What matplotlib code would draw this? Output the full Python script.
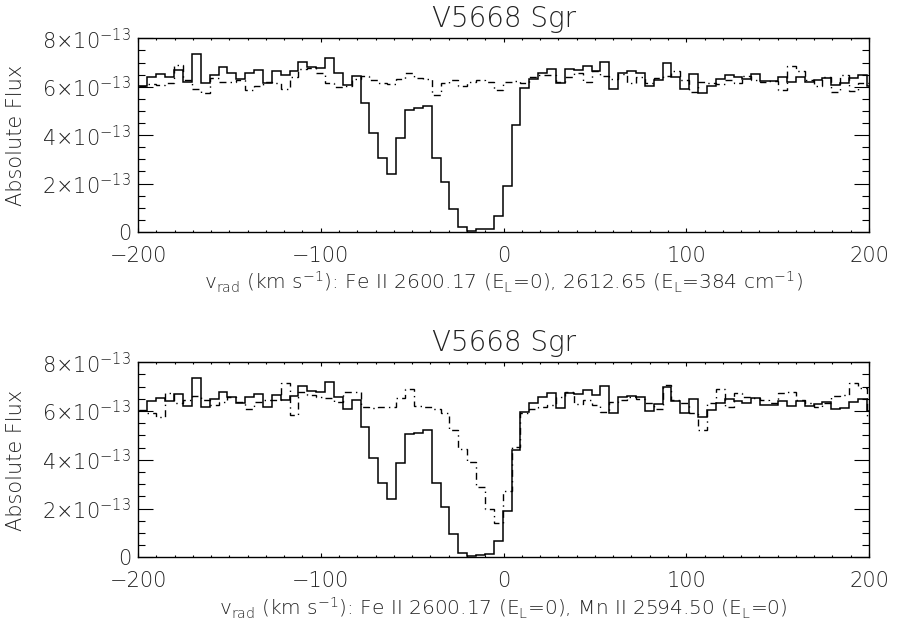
import matplotlib
matplotlib.use('Agg')
import matplotlib.pyplot as plt
import numpy as np

#======= Data ================================
# velocity pixel grid (km/s): left edge of first bin and bin width
v_start = -199.7
v_step = 4.86

# flux in units of 1e-13 (one value per velocity bin)
fe2600 = [6.01, 6.42, 6.53, 6.42, 6.69, 6.21, 7.36, 6.17, 6.49, 6.80,
          6.56, 6.31, 6.56, 6.69, 6.17, 6.67, 6.47, 6.63, 7.04, 6.83,
          6.79, 7.18, 6.58, 6.07, 6.45, 5.34, 4.08, 3.04, 2.40, 3.87,
          5.04, 5.11, 5.21, 3.04, 2.08, 0.94, 0.19, 0.04, 0.11, 0.14,
          0.66, 1.90, 4.42, 5.94, 6.31, 6.58, 6.72, 6.14, 6.75, 6.69,
          6.86, 6.67, 7.02, 5.91, 6.58, 6.63, 6.58, 6.01, 6.28, 6.97,
          6.42, 5.90, 6.51, 5.76, 6.03, 6.31, 6.49, 6.42, 6.31, 6.53,
          6.25, 6.24, 6.42, 6.21, 6.42, 6.21, 6.28, 6.35, 6.07, 6.14,
          6.35, 6.49, 6.01]

fe2612 = [6.01, 6.12, 6.07, 6.14, 6.90, 6.28, 5.90, 5.76, 6.35, 6.21,
          6.21, 6.28, 5.87, 6.03, 6.21, 6.14, 5.90, 6.42, 6.72, 6.76,
          6.58, 6.14, 5.98, 6.01, 6.31, 6.45, 6.28, 6.14, 6.12, 6.31,
          6.58, 6.35, 6.31, 5.66, 6.14, 6.28, 6.01, 6.21, 6.28, 6.21,
          5.87, 6.21, 6.25, 6.14, 6.42, 6.49, 6.49, 6.21, 6.42, 6.56,
          6.21, 6.63, 6.45, 6.31, 6.53, 6.17, 6.42, 6.17, 6.35, 6.45,
          6.67, 6.28, 5.80, 6.21, 6.14, 6.12, 6.28, 6.14, 6.45, 6.28,
          6.21, 6.25, 5.87, 6.86, 6.63, 6.28, 6.01, 6.39, 5.80, 6.49,
          5.84, 6.17, 6.14]

mn2594 = [6.05, 5.91, 5.77, 6.76, 6.32, 6.46, 6.62, 6.46, 6.25, 6.39,
          6.57, 6.39, 6.07, 6.35, 6.46, 6.46, 7.14, 5.84, 6.80, 6.66,
          6.59, 6.53, 6.39, 6.80, 6.80, 6.16, 6.11, 6.16, 6.16, 6.53,
          6.91, 6.21, 6.16, 6.07, 5.91, 5.23, 4.43, 3.93, 2.90, 1.97,
          1.42, 2.74, 4.54, 5.91, 6.07, 6.16, 6.25, 6.59, 6.80, 6.29,
          6.46, 6.25, 5.98, 6.39, 6.46, 6.57, 6.48, 6.32, 6.07, 7.07,
          6.46, 6.32, 5.91, 5.23, 6.32, 6.89, 6.16, 6.76, 6.59, 6.53,
          6.46, 6.32, 6.76, 6.80, 6.46, 6.32, 6.16, 6.32, 6.62, 6.66,
          7.14, 6.94, 5.77]

title = 'V5668 Sgr'
xlabels = [r'v$_{\rm rad}$ (km s$^{-1}$): Fe II 2600.17 (E$_{\rm L}$=0), 2612.65 (E$_{\rm L}$=384 cm$^{-1}$)',
           r'v$_{\rm rad}$ (km s$^{-1}$): Fe II 2600.17 (E$_{\rm L}$=0), Mn II 2594.50 (E$_{\rm L}$=0)']
ytick_vals = [0, 2e-13, 4e-13, 6e-13, 8e-13]
ytick_labels = ['0', '2\u00d710$^{-13}$', '4\u00d710$^{-13}$', '6\u00d710$^{-13}$', '8\u00d710$^{-13}$']
xtick_vals = [-200, -100, 0, 100, 200]

#======= Style ================================
plt.rcParams['font.family'] = ['DejaVu Sans']
plt.rcParams['font.weight'] = 'light'
plt.rcParams['axes.titleweight'] = 'light'
plt.rcParams['axes.labelweight'] = 'light'
plt.rcParams['mathtext.fontset'] = 'custom'
plt.rcParams['mathtext.rm'] = 'DejaVu Sans:light'
plt.rcParams['mathtext.it'] = 'DejaVu Sans:light'
plt.rcParams['text.color'] = '#222222'

txt_col = '#222222'
dashdot = (0, (5, 3, 1, 3))


#======= Panel ================================
def panel(ax, comparison, xlabel):
    edges = v_start + v_step * np.arange(len(fe2600) + 1)
    ax.stairs(np.array(fe2600) * 1e-13, edges, baseline=None, color='black', lw=1.1)
    ax.stairs(np.array(comparison) * 1e-13, edges, baseline=None, color='black', lw=1.0,
              linestyle=dashdot)

    ax.set_xlim(-200, 200)
    ax.set_ylim(0, 8e-13)
    ax.set_xticks(xtick_vals)
    ax.set_xticklabels([str(t) if t >= 0 else '\u2212' + str(-t) for t in xtick_vals])
    ax.set_xticks(np.arange(-200, 201, 10), minor=True)
    ax.set_yticks(ytick_vals)
    ax.set_yticklabels(ytick_labels)
    ax.set_yticks(np.arange(0, 8.01e-13, 0.5e-13), minor=True)

    ax.tick_params(axis='both', which='both', direction='in', top=True, right=True,
                   color='black', width=0.8, labelcolor=txt_col)
    ax.tick_params(axis='x', which='major', length=3, pad=10, labelsize=15)
    ax.tick_params(axis='x', which='minor', length=1.5)
    ax.tick_params(axis='y', which='major', length=10.5, pad=5, labelsize=15)
    ax.tick_params(axis='y', which='minor', length=5)
    for s in ax.spines.values():
        s.set_linewidth(1.0)

    ax.set_title(title, fontsize=20, pad=8, color=txt_col, fontweight='light')
    ax.set_xlabel(xlabel, fontsize=14.5, labelpad=3, color=txt_col, fontweight='light')


fig = plt.figure(figsize=(8.98, 6.26), dpi=100)
ax1 = fig.add_axes([0.1537, 0.6294, 0.8140, 0.3094])
ax2 = fig.add_axes([0.1537, 0.1097, 0.8140, 0.3116])

panel(ax1, fe2612, xlabels[0])
panel(ax2, mn2594, xlabels[1])

fig.text(16 / 898, 0.784, 'Absolute Flux', rotation=90, ha='center', va='center',
         fontsize=15, color=txt_col)
fig.text(16 / 898, 0.265, 'Absolute Flux', rotation=90, ha='center', va='center',
         fontsize=15, color=txt_col)

fig.savefig('out.png', dpi=100)
